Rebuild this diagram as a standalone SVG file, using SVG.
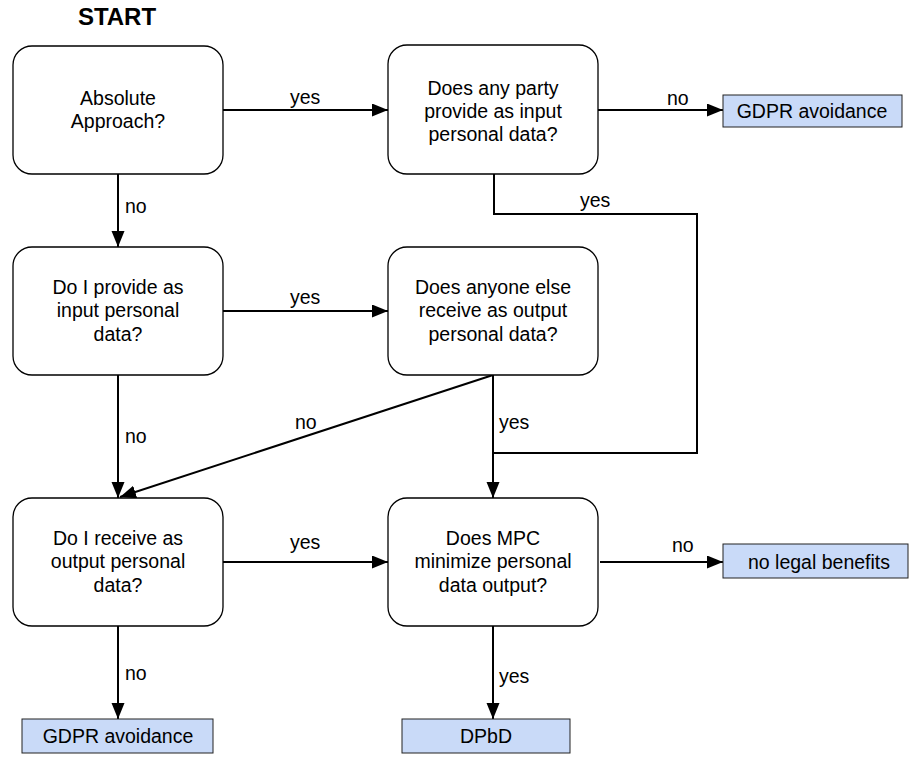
<svg xmlns="http://www.w3.org/2000/svg" width="912" height="758" viewBox="0 0 912 758">
<defs>
<marker id="arr" markerUnits="userSpaceOnUse" markerWidth="17" markerHeight="14" refX="16" refY="6.5" orient="auto">
<path d="M0,0 L16,6.5 L0,13 z" fill="#000"/>
</marker>
<style>
.q{fill:#fff;stroke:#000;stroke-width:1.3}
.leaf{fill:#c9daf8;stroke:#222;stroke-width:1}
.t{font-family:"Liberation Sans",Arial,sans-serif;font-size:19.5px;fill:#000;text-anchor:middle}
.lbl{font-family:"Liberation Sans",Arial,sans-serif;font-size:19.5px;fill:#000}
.c{fill:none;stroke:#000;stroke-width:2}
.ca{fill:none;stroke:#000;stroke-width:2;marker-end:url(#arr)}
</style>
</defs>
<rect width="912" height="758" fill="#fff"/>
<text x="117" y="25" style="font-family:'Liberation Sans',Arial,sans-serif;font-size:24px;font-weight:bold;text-anchor:middle">START</text>

<g id="connectors">
<path class="ca" d="M223,110 H388"/>
<path class="ca" d="M598,110 H723"/>
<path class="c" d="M494,174 V214 H697 V453 H493"/>
<path class="ca" d="M118,174 V247"/>
<path class="ca" d="M223,311 H388"/>
<path class="ca" d="M493,375 V498"/>
<path class="ca" d="M493,375 L120,497"/>
<path class="ca" d="M118,375 V498"/>
<path class="ca" d="M223,562 H388"/>
<path class="ca" d="M600,562 H723"/>
<path class="ca" d="M118,626 V719"/>
<path class="ca" d="M493,626 V719"/>
<text class="lbl" x="290" y="104">yes</text>
<text class="lbl" x="667" y="105">no</text>
<text class="lbl" x="580" y="207">yes</text>
<text class="lbl" x="125" y="213">no</text>
<text class="lbl" x="290" y="304">yes</text>
<text class="lbl" x="295" y="429">no</text>
<text class="lbl" x="125" y="443">no</text>
<text class="lbl" x="499" y="429">yes</text>
<text class="lbl" x="290" y="549">yes</text>
<text class="lbl" x="672" y="552">no</text>
<text class="lbl" x="125" y="680">no</text>
<text class="lbl" x="499" y="683">yes</text>
</g>

<g id="absolute">
<rect class="q" x="13" y="46" width="210" height="128" rx="19"/>
<text class="t" x="118" y="105">Absolute</text>
<text class="t" x="118" y="128">Approach?</text>
</g>
<g id="anyparty">
<rect class="q" x="388" y="45" width="210" height="129" rx="19"/>
<text class="t" x="493" y="95">Does any party</text>
<text class="t" x="493" y="118">provide as input</text>
<text class="t" x="493" y="141">personal data?</text>
</g>
<g id="gdpr1">
<rect class="leaf" x="723" y="95" width="179" height="32"/>
<text class="t" x="812" y="118">GDPR avoidance</text>
</g>
<g id="iprovide">
<rect class="q" x="13" y="247" width="210" height="128" rx="19"/>
<text class="t" x="118" y="294">Do I provide as</text>
<text class="t" x="118" y="317">input personal</text>
<text class="t" x="118" y="341">data?</text>
</g>
<g id="anyoneelse">
<rect class="q" x="388" y="247" width="210" height="128" rx="19"/>
<text class="t" x="493" y="294">Does anyone else</text>
<text class="t" x="493" y="317">receive as output</text>
<text class="t" x="493" y="341">personal data?</text>
</g>
<g id="ireceive">
<rect class="q" x="13" y="498" width="210" height="128" rx="19"/>
<text class="t" x="118" y="545">Do I receive as</text>
<text class="t" x="118" y="568">output personal</text>
<text class="t" x="118" y="592">data?</text>
</g>
<g id="mpc">
<rect class="q" x="388" y="498" width="210" height="128" rx="19"/>
<text class="t" x="493" y="545">Does MPC</text>
<text class="t" x="493" y="568">minimize personal</text>
<text class="t" x="493" y="592">data output?</text>
</g>
<g id="nolegal">
<rect class="leaf" x="723" y="544" width="185" height="34"/>
<text class="t" x="819" y="569">no legal benefits</text>
</g>
<g id="gdpr2">
<rect class="leaf" x="22" y="719" width="191" height="34"/>
<text class="t" x="118" y="743">GDPR avoidance</text>
</g>
<g id="dpbd">
<rect class="leaf" x="402" y="719" width="168" height="34"/>
<text class="t" x="486" y="743">DPbD</text>
</g>
</svg>
